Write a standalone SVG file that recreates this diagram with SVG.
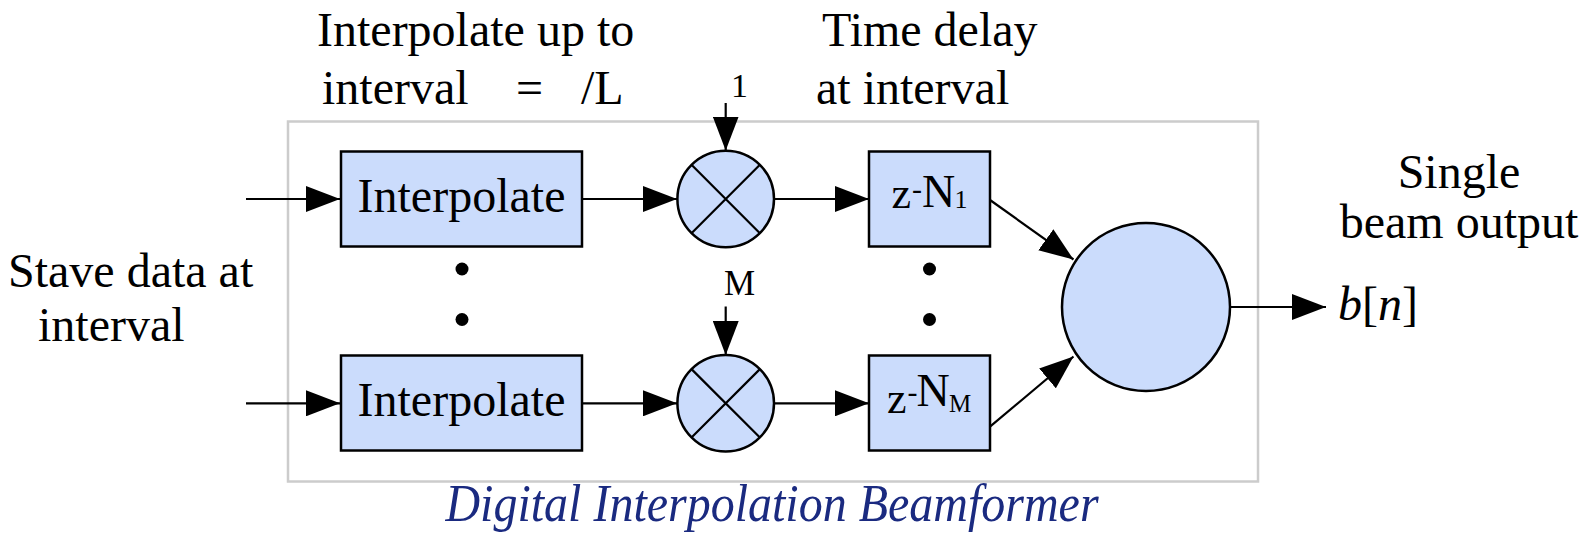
<svg xmlns="http://www.w3.org/2000/svg" width="1587" height="533" viewBox="0 0 1587 533">
<style>
text{font-family:"Liberation Serif","Times New Roman",serif;fill:#000}
.lbl{font-size:48px}
.blk{fill:#cbdcfc;stroke:#000;stroke-width:2.5}
.ln{stroke:#000;stroke-width:2.2;fill:none}
.arr{stroke:#000;stroke-width:2.2;fill:none;marker-end:url(#ah)}
.dot{fill:#000}
</style>
<defs>
<marker id="ah" viewBox="0 0 34 26" refX="34" refY="13" markerWidth="34" markerHeight="26" markerUnits="userSpaceOnUse" orient="auto">
<path d="M0,0 L34,13 L0,26 z" fill="#000"/>
</marker>
</defs>
<rect id="frame" x="288" y="121.5" width="970" height="360" fill="none" stroke="#cccccc" stroke-width="2.5"/>
<g id="labels">
<text class="lbl" x="317" y="46">Interpolate up to</text>
<text class="lbl" x="322" y="104">interval</text>
<text class="lbl" x="516" y="104">=</text>
<text class="lbl" x="581" y="104">/L</text>
<text class="lbl" x="822" y="46">Time delay</text>
<text class="lbl" x="816" y="104">at interval</text>
<text class="lbl" x="8" y="287">Stave data at</text>
<text class="lbl" x="38" y="341">interval</text>
<text class="lbl" x="1459" y="188" text-anchor="middle">Single</text>
<text class="lbl" x="1459" y="238" text-anchor="middle">beam output</text>
<text class="lbl" x="1338" y="320"><tspan font-style="italic">b</tspan>[<tspan font-style="italic">n</tspan>]</text>
<text x="731" y="97" font-size="34">1</text>
<text x="724" y="295" font-size="35">M</text>
<text transform="translate(772,521) scale(1,1.12)" x="0" y="0" font-size="48" font-style="italic" text-anchor="middle" style="fill:#1a2a80">Digital Interpolation Beamformer</text>
</g>
<g id="interp1"><rect class="blk" x="341" y="151.5" width="241" height="95"/><text class="lbl" x="461.5" y="212" text-anchor="middle">Interpolate</text></g>
<g id="interpM"><rect class="blk" x="341" y="355.5" width="241" height="95"/><text class="lbl" x="461.5" y="416" text-anchor="middle">Interpolate</text></g>
<g id="mult1"><circle class="blk" cx="725.7" cy="199" r="48.3"/><path class="ln" d="M691.5,164.8 L759.9,233.2 M759.9,164.8 L691.5,233.2"/></g>
<g id="multM"><circle class="blk" cx="725.7" cy="403.3" r="48.3"/><path class="ln" d="M691.5,369.1 L759.9,437.5 M759.9,369.1 L691.5,437.5"/></g>
<g id="delay1"><rect class="blk" x="869" y="151.5" width="121" height="95"/>
<text font-size="44"><tspan x="891.5" y="208.3">z</tspan><tspan x="912" y="199" font-size="30">-</tspan><tspan x="922" y="206.7" font-size="46">N</tspan><tspan x="954.5" y="207.7" font-size="26">1</tspan></text></g>
<g id="delayM"><rect class="blk" x="869" y="355.5" width="121" height="95"/>
<text font-size="44"><tspan x="887" y="413.3">z</tspan><tspan x="907.5" y="401.5" font-size="30">-</tspan><tspan x="916.5" y="405.5" font-size="46">N</tspan><tspan x="949" y="411.7" font-size="25">M</tspan></text></g>
<g id="sum"><circle class="blk" cx="1146" cy="307" r="84"/></g>
<g id="dots">
<circle class="dot" cx="462" cy="269" r="6.5"/><circle class="dot" cx="462" cy="319.5" r="6.5"/>
<circle class="dot" cx="929.5" cy="269" r="6.5"/><circle class="dot" cx="929.5" cy="319.5" r="6.5"/>
</g>
<g id="connectors">
<line class="arr" x1="246" y1="199" x2="340" y2="199"/>
<line class="arr" x1="246" y1="403.3" x2="340" y2="403.3"/>
<line class="arr" x1="582" y1="199" x2="677" y2="199"/>
<line class="arr" x1="582" y1="403.3" x2="677" y2="403.3"/>
<line class="arr" x1="774" y1="199" x2="869" y2="199"/>
<line class="arr" x1="774" y1="403.3" x2="869" y2="403.3"/>
<line class="arr" x1="725.7" y1="103" x2="725.7" y2="150.5"/>
<line class="arr" x1="725.7" y1="306.5" x2="725.7" y2="355"/>
<line class="arr" x1="990" y1="200" x2="1073.5" y2="259.5"/>
<line class="arr" x1="990" y1="426.7" x2="1073.5" y2="356.5"/>
<line class="arr" x1="1230" y1="307" x2="1326" y2="307"/>
</g>
</svg>
